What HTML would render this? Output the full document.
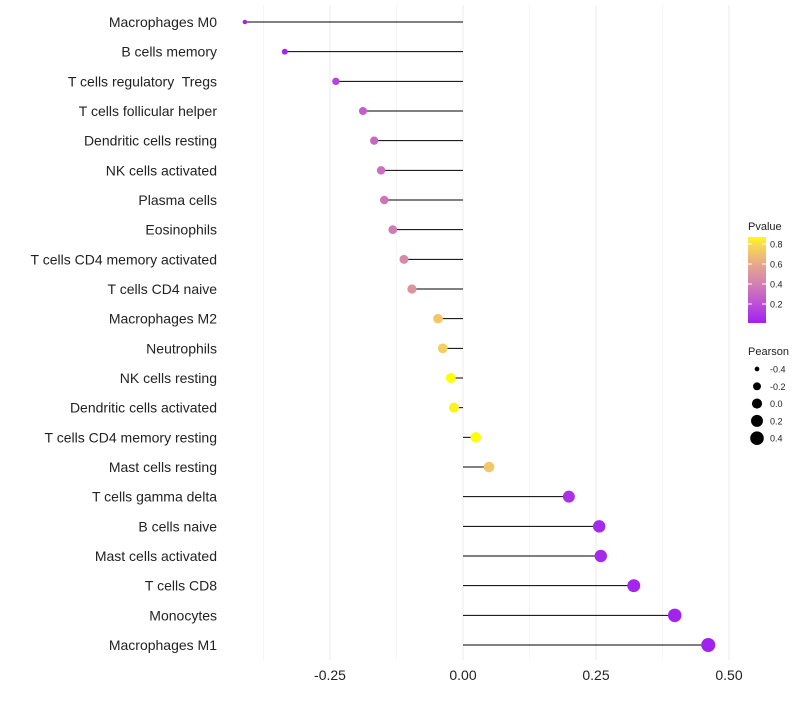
<!DOCTYPE html>
<html><head><meta charset="utf-8"><style>
body{margin:0;background:#fff;font-family:"Liberation Sans",sans-serif;}
svg text{font-family:"Liberation Sans",sans-serif;white-space:pre;}
</style></head><body>
<svg id="chart" width="800" height="700"></svg>
<script>
const categories=["Macrophages M0","B cells memory","T cells regulatory  Tregs","T cells follicular helper","Dendritic cells resting","NK cells activated","Plasma cells","Eosinophils","T cells CD4 memory activated","T cells CD4 naive","Macrophages M2","Neutrophils","NK cells resting","Dendritic cells activated","T cells CD4 memory resting","Mast cells resting","T cells gamma delta","B cells naive","Mast cells activated","T cells CD8","Monocytes","Macrophages M1"];
const pearson=[-0.41,-0.335,-0.239,-0.188,-0.167,-0.154,-0.148,-0.132,-0.111,-0.096,-0.047,-0.038,-0.023,-0.017,0.024,0.049,0.199,0.256,0.259,0.321,0.398,0.461];
const pvalue=[0.01,0.02,0.15,0.25,0.3,0.33,0.35,0.38,0.45,0.5,0.72,0.75,0.88,0.85,0.9,0.72,0.07,0.04,0.04,0.02,0.01,0.005];
const xTicks=[-0.25,0,0.25,0.5];
const xTickLabels=["-0.25","0.00","0.25","0.50"];
const pTicks=[0.2,0.4,0.6,0.8];
const sizeTicks=[-0.4,-0.2,0,0.2,0.4];

const NS="http://www.w3.org/2000/svg";
const svg=document.getElementById("chart");
function el(t,a,p){const e=document.createElementNS(NS,t);for(const k in a)e.setAttribute(k,a[k]);(p||svg).appendChild(e);return e;}
const x=v=>463+v*532;
const y=i=>22+i*(623/21);
const r=v=>Math.sqrt(5+(v+0.41)/(0.871)*44);
const stops=[[0,[160,32,240]],[0.2,[190,80,215]],[0.4,[210,128,178]],[0.6,[232,168,140]],[0.8,[248,220,80]],[0.88,[255,255,0]]];
function col(p){p=Math.max(0,Math.min(0.88,p));for(let i=1;i<stops.length;i++){if(p<=stops[i][0]){const a=stops[i-1],b=stops[i],t=(p-a[0])/(b[0]-a[0]);return "rgb("+a[1].map((c,k)=>Math.round(c+(b[1][k]-c)*t)).join(",")+")";}}return "rgb(255,255,0)";}

for(let v=-0.375;v<=0.5;v+=0.125){const g=el("line",{x1:x(v),x2:x(v),y1:5,y2:660,stroke:"#ebebeb","stroke-width":Math.abs(v*4-Math.round(v*4))<1e-6?1:0.5});
}
xTicks.forEach((v,i)=>{const t=el("text",{x:x(v),y:680,"text-anchor":"middle","font-size":14,fill:"#222"});t.textContent=xTickLabels[i];
});

categories.forEach((c,i)=>{
 const t=el("text",{x:217,y:y(i)+5,"text-anchor":"end","font-size":14,fill:"#222","xml:space":"preserve"});t.textContent=c;
 
 const l=el("line",{x1:x(0),x2:x(pearson[i]),y1:y(i),y2:y(i),stroke:"#000","stroke-width":1});
 
 const d=el("circle",{cx:x(pearson[i]),cy:y(i),r:r(pearson[i]),fill:col(pvalue[i])});
 
});

const lt=el("text",{x:748,y:230,"font-size":11,fill:"#222"});lt.textContent="Pvalue";

const defs=el("defs",{});const lg=el("linearGradient",{id:"pg",x1:0,y1:1,x2:0,y2:0},defs);
stops.forEach(s=>el("stop",{offset:((s[0]-0.01)/0.86),"stop-color":"rgb("+s[1].join(",")+")"},lg));
const cb=el("rect",{x:748,y:237,width:18,height:86,fill:"url(#pg)"});

pTicks.forEach(p=>{const yy=323-(p-0.01)*100;
 el("line",{x1:748,x2:752,y1:yy,y2:yy,stroke:"#fff"});el("line",{x1:762,x2:766,y1:yy,y2:yy,stroke:"#fff"});
 const t=el("text",{x:770,y:yy+3.5,"font-size":9,fill:"#222"});t.textContent=p.toFixed(1);
 });

const st=el("text",{x:748,y:355,"font-size":11,fill:"#222"});st.textContent="Pearson";

sizeTicks.forEach((v,i)=>{const yy=369+i*17.3;
 const c=el("circle",{cx:757,cy:yy,r:r(v),fill:"#000"});
 
 const t=el("text",{x:770,y:yy+3.5,"font-size":9,fill:"#222"});t.textContent=v.toFixed(1);
 });
</script>
</body></html>
